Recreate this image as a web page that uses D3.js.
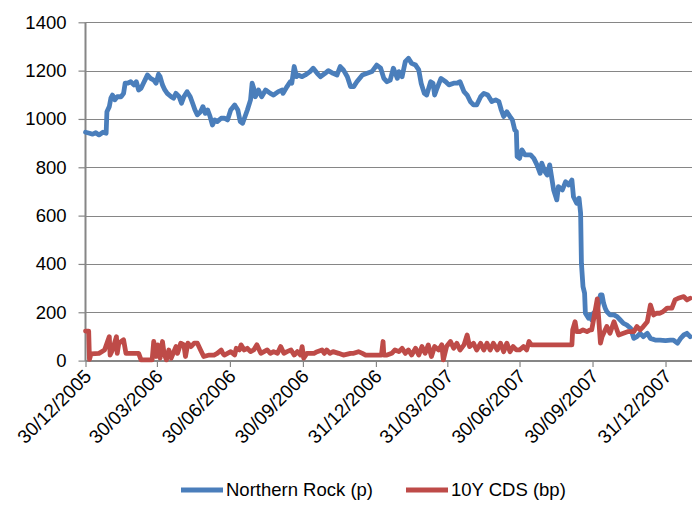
<!DOCTYPE html>
<html><head><meta charset="utf-8">
<script src="https://cdn.jsdelivr.net/npm/d3@7/dist/d3.min.js"></script>
<style>
html,body{margin:0;padding:0;background:#fff;}
svg{display:block;font-family:"Liberation Sans",Arial,sans-serif;}
</style></head>
<body><svg id="chart" width="692" height="521"></svg>
<script>
// ---- data ----
const seriesNames = ["Northern Rock (p)", "10Y CDS (bp)"];
const nrDates = ["2005-12-30","2006-01-04","2006-01-08","2006-01-12","2006-01-16","2006-01-21","2006-01-25","2006-01-26","2006-01-29","2006-01-31","2006-02-02","2006-02-05","2006-02-08","2006-02-13","2006-02-16","2006-02-18","2006-02-21","2006-02-25","2006-03-01","2006-03-04","2006-03-07","2006-03-10","2006-03-13","2006-03-16","2006-03-18","2006-03-22","2006-03-26","2006-03-29","2006-04-01","2006-04-03","2006-04-06","2006-04-09","2006-04-12","2006-04-17","2006-04-20","2006-04-23","2006-04-27","2006-04-30","2006-05-03","2006-05-07","2006-05-11","2006-05-14","2006-05-17","2006-05-20","2006-05-24","2006-05-27","2006-05-30","2006-06-02","2006-06-05","2006-06-08","2006-06-11","2006-06-14","2006-06-19","2006-06-23","2006-06-27","2006-07-01","2006-07-06","2006-07-10","2006-07-13","2006-07-16","2006-07-22","2006-07-26","2006-07-28","2006-07-30","2006-08-01","2006-08-05","2006-08-09","2006-08-14","2006-08-20","2006-08-24","2006-08-30","2006-09-04","2006-09-05","2006-09-10","2006-09-14","2006-09-16","2006-09-19","2006-09-22","2006-09-24","2006-09-29","2006-10-03","2006-10-09","2006-10-13","2006-10-18","2006-10-22","2006-10-28","2006-11-01","2006-11-07","2006-11-12","2006-11-16","2006-11-20","2006-11-25","2006-11-29","2006-12-03","2006-12-07","2006-12-14","2006-12-20","2006-12-26","2007-01-01","2007-01-06","2007-01-10","2007-01-14","2007-01-18","2007-01-22","2007-01-27","2007-01-29","2007-02-02","2007-02-06","2007-02-10","2007-02-14","2007-02-19","2007-02-23","2007-02-26","2007-03-02","2007-03-05","2007-03-10","2007-03-13","2007-03-15","2007-03-18","2007-03-23","2007-03-29","2007-04-02","2007-04-08","2007-04-12","2007-04-16","2007-04-21","2007-04-25","2007-04-29","2007-05-03","2007-05-07","2007-05-12","2007-05-16","2007-05-21","2007-05-26","2007-05-31","2007-06-04","2007-06-07","2007-06-10","2007-06-14","2007-06-18","2007-06-21","2007-06-24","2007-06-26","2007-06-27","2007-06-30","2007-07-03","2007-07-07","2007-07-14","2007-07-18","2007-07-22","2007-07-26","2007-07-28","2007-08-01","2007-08-04","2007-08-07","2007-08-10","2007-08-12","2007-08-16","2007-08-18","2007-08-23","2007-08-27","2007-08-31","2007-09-04","2007-09-06","2007-09-10","2007-09-13","2007-09-15","2007-09-16","2007-09-18","2007-09-20","2007-09-21","2007-09-25","2007-09-27","2007-09-29","2007-10-01","2007-10-06","2007-10-10","2007-10-12","2007-10-14","2007-10-16","2007-10-18","2007-10-22","2007-10-27","2007-10-31","2007-11-04","2007-11-08","2007-11-12","2007-11-17","2007-11-21","2007-11-25","2007-11-29","2007-12-03","2007-12-08","2007-12-12","2007-12-18","2007-12-24","2007-12-31","2008-01-06","2008-01-10","2008-01-15","2008-01-19","2008-01-23","2008-01-27","2008-01-31"];
const nrValues = [945,941,937,943,934,945,941,1030,1051,1086,1099,1079,1092,1092,1106,1148,1148,1154,1141,1154,1120,1127,1148,1168,1182,1168,1161,1148,1185,1175,1141,1120,1106,1092,1086,1106,1092,1065,1092,1113,1092,1065,1037,1017,1030,1051,1023,1037,1010,975,996,989,1003,1003,996,1037,1058,1037,989,982,1037,1079,1148,1127,1092,1120,1092,1120,1106,1099,1113,1120,1106,1134,1154,1148,1217,1175,1182,1175,1182,1196,1210,1189,1175,1189,1200,1189,1182,1217,1203,1175,1134,1134,1154,1182,1189,1196,1223,1210,1168,1154,1161,1210,1168,1196,1175,1237,1251,1230,1223,1203,1148,1106,1099,1154,1148,1099,1127,1168,1154,1141,1148,1148,1154,1113,1099,1072,1058,1058,1092,1106,1099,1072,1079,1072,1037,1010,1030,1010,996,954,948,844,837,872,851,851,837,810,775,817,782,768,810,748,706,665,720,706,740,727,747,678,651,672,610,403,306,279,196,175,189,168,196,210,272,272,237,217,203,189,189,182,168,154,148,134,92,99,113,99,113,92,85,85,83,85,85,72,92,106,113,99];
const cdsDates = ["2005-12-30","2006-01-03","2006-01-04","2006-01-06","2006-01-16","2006-01-23","2006-01-29","2006-01-30","2006-02-02","2006-02-07","2006-02-08","2006-02-10","2006-02-13","2006-02-16","2006-02-19","2006-03-07","2006-03-10","2006-03-24","2006-03-26","2006-03-29","2006-03-31","2006-04-03","2006-04-06","2006-04-08","2006-04-11","2006-04-14","2006-04-17","2006-04-23","2006-04-25","2006-04-29","2006-05-03","2006-05-05","2006-05-08","2006-05-12","2006-05-16","2006-05-20","2006-05-24","2006-05-28","2006-06-04","2006-06-10","2006-06-14","2006-06-19","2006-06-21","2006-06-23","2006-06-27","2006-07-01","2006-07-06","2006-07-08","2006-07-12","2006-07-14","2006-07-18","2006-07-22","2006-07-26","2006-07-30","2006-08-03","2006-08-08","2006-08-12","2006-08-16","2006-08-20","2006-08-24","2006-08-29","2006-09-02","2006-09-06","2006-09-10","2006-09-15","2006-09-19","2006-09-23","2006-09-27","2006-09-29","2006-10-01","2006-10-05","2006-10-14","2006-10-18","2006-10-24","2006-10-27","2006-10-30","2006-11-03","2006-11-07","2006-11-14","2006-11-20","2006-11-29","2006-12-03","2006-12-09","2006-12-14","2006-12-18","2006-12-24","2007-01-01","2007-01-07","2007-01-09","2007-01-10","2007-01-14","2007-01-20","2007-01-24","2007-01-29","2007-02-02","2007-02-06","2007-02-10","2007-02-14","2007-02-19","2007-02-23","2007-02-27","2007-03-03","2007-03-07","2007-03-11","2007-03-15","2007-03-20","2007-03-24","2007-03-26","2007-03-30","2007-04-04","2007-04-08","2007-04-12","2007-04-16","2007-04-21","2007-04-25","2007-04-28","2007-05-03","2007-05-07","2007-05-12","2007-05-16","2007-05-20","2007-05-24","2007-05-28","2007-06-02","2007-06-06","2007-06-10","2007-06-14","2007-06-18","2007-06-22","2007-06-26","2007-06-30","2007-07-05","2007-07-09","2007-07-12","2007-07-15","2007-09-04","2007-09-05","2007-09-08","2007-09-10","2007-09-14","2007-09-18","2007-09-23","2007-09-27","2007-09-29","2007-10-06","2007-10-10","2007-10-12","2007-10-14","2007-10-18","2007-10-22","2007-10-27","2007-10-30","2007-11-02","2007-11-08","2007-11-14","2007-11-21","2007-11-25","2007-11-29","2007-12-03","2007-12-08","2007-12-12","2007-12-16","2007-12-20","2007-12-24","2007-12-28","2008-01-02","2008-01-08","2008-01-12","2008-01-16","2008-01-23","2008-01-27","2008-01-31"];
const cdsValues = [122,122,5,28,30,44,99,23,44,99,30,72,79,86,30,30,3,3,79,17,65,10,79,30,3,44,10,58,30,72,65,17,72,58,72,72,44,17,23,23,30,44,30,23,30,37,23,51,44,65,44,51,37,44,65,30,37,44,30,37,30,58,30,37,44,23,37,23,58,10,30,30,37,44,30,44,30,37,30,23,30,30,37,30,23,23,23,23,79,23,23,30,44,37,51,30,44,23,51,23,58,30,65,17,58,44,65,3,58,79,51,72,44,65,106,58,72,44,72,44,72,44,72,44,72,37,72,37,58,44,44,58,44,79,65,65,127,161,120,120,127,120,127,127,255,72,99,113,141,113,161,134,106,113,120,120,141,127,141,161,230,189,196,196,203,217,217,251,258,265,251,258];
const tickDates = ["2005-12-30","2006-03-30","2006-06-30","2006-09-30","2006-12-31","2007-03-31","2007-06-30","2007-09-30","2007-12-31"];
const tickLabels = ["30/12/2005","30/03/2006","30/06/2006","30/09/2006","31/12/2006","31/03/2007","30/06/2007","30/09/2007","31/12/2007"];
const yTicks = [0,200,400,600,800,1000,1200,1400];
const colors = ["#4A7EBB","#BE4B48"];

// ---- chart ----
const parse = d3.utcParse("%Y-%m-%d");
const svg = d3.select("#chart");
const x = d3.scaleUtc().domain([parse("2005-12-30"), parse("2008-02-03")]).range([85.5, 692.5]);
const y = d3.scaleLinear().domain([0,1400]).range([360.6, 22.3]);

// gridlines
svg.append("g").selectAll("line").data(yTicks.filter(v=>v>0)).join("line")
  .attr("x1", 85.5).attr("x2", 692).attr("y1", d=>Math.round(y(d))+0.5).attr("y2", d=>Math.round(y(d))+0.5)
  .attr("stroke","#868686").attr("stroke-width",1.2);

// y axis
const yAxis = svg.append("g").attr("transform","translate(85.5,0)")
  .call(d3.axisLeft(y).tickValues(yTicks).tickSize(7).tickPadding(12).tickFormat(d3.format("d")));
yAxis.select(".domain").attr("stroke","#868686").attr("stroke-width",2).attr("d","M0,22.3V361");
yAxis.selectAll(".tick line").attr("stroke","#868686").attr("stroke-width",1.2);
yAxis.selectAll(".tick text").attr("font-size",18.5).attr("fill","#000").attr("font-family","Liberation Sans, Arial, sans-serif");

// x axis
const xAxis = svg.append("g").attr("transform","translate(0,361)")
  .call(d3.axisBottom(x).tickValues(tickDates.map(parse)).tickSize(6)
    .tickFormat((d,i)=>tickLabels[i]));
xAxis.select(".domain").attr("stroke","#868686").attr("stroke-width",2).attr("d","M85.5,0H692");
xAxis.selectAll(".tick line").attr("stroke","#868686").attr("stroke-width",1.2);
xAxis.selectAll(".tick text")
  .attr("font-size",19).attr("fill","#000").attr("font-family","Liberation Sans, Arial, sans-serif")
  .attr("text-anchor","end").attr("dy",null).attr("y",0)
  .attr("transform","translate(2,12) rotate(-45)")
  .attr("dominant-baseline","central");

// lines
const line = d3.line().x(d=>x(d.date)).y(d=>y(d.value)).curve(d3.curveLinear);
const nrData = nrDates.map((d,i)=>({date:parse(d), value:nrValues[i]}));
const cdsData = cdsDates.map((d,i)=>({date:parse(d), value:cdsValues[i]}));
svg.append("path").datum(nrData).attr("d",line).attr("fill","none")
  .attr("stroke",colors[0]).attr("stroke-width",4.8).attr("stroke-linejoin","round").attr("stroke-linecap","round");
svg.append("path").datum(cdsData).attr("d",line).attr("fill","none")
  .attr("stroke",colors[1]).attr("stroke-width",4.8).attr("stroke-linejoin","round").attr("stroke-linecap","round");

// legend
const legend = svg.append("g");
const legX = [181, 406];
seriesNames.forEach((name,i)=>{
  legend.append("line").attr("x1",legX[i]).attr("x2",legX[i]+42).attr("y1",490).attr("y2",490)
    .attr("stroke",colors[i]).attr("stroke-width",4.8);
  legend.append("text").attr("x",legX[i]+45).attr("y",490).attr("dy","0.35em")
    .attr("font-size",18.5).attr("fill","#000").text(name);
});
</script></body></html>
